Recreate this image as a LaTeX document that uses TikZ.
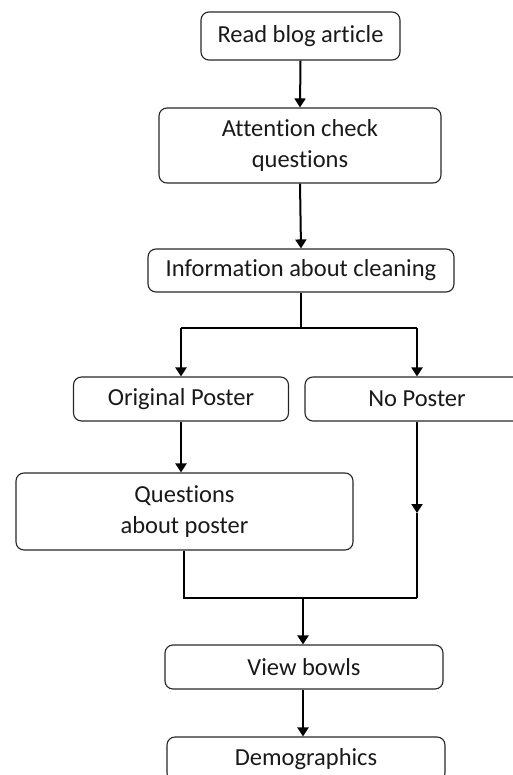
\documentclass[tikz,border=0pt]{standalone}
\usepackage{fontspec}
\setmainfont{Carlito}[Ligatures={NoCommon}]
\usetikzlibrary{arrows.meta,calc}
\begin{document}
\begin{tikzpicture}[x=1pt,y=-1pt,
  box/.style={draw=black!85,line width=1.1pt,rounded corners=8pt,align=center,
    inner sep=0pt,font=\fontsize{24.5}{31}\selectfont,text=black!90},
  conn/.style={line width=2pt,black},
  arr/.style={conn,-{Triangle[width=11pt,length=9pt]}}]
\useasboundingbox (0,0) rectangle (513,775);
\begin{scope}
\clip (0,0) rectangle (513,775);
\node[box,minimum width=199pt,minimum height=48pt] (read) at (300.5,36) {Read blog article};
\node[box,minimum width=282pt,minimum height=75pt] (att) at (300,145.5) {Attention check\\questions};
\node[box,minimum width=306pt,minimum height=43pt] (info) at (301,270.5) {Information about cleaning};
\node[box,minimum width=215pt,minimum height=44pt] (orig) at (181,399) {Original Poster};
\node[box,minimum width=224pt,minimum height=44pt] (nop) at (417,399) {No Poster};
\node[box,minimum width=337pt,minimum height=77pt] (quest) at (184.5,511.5) {Questions\\about poster};
\node[box,minimum width=278pt,minimum height=44pt] (view) at (304,667) {View bowls};
\node[box,minimum width=278pt,minimum height=44pt] (demo) at (306,759) {Demographics};
\end{scope}
\coordinate (split) at (301,328);
\coordinate (splitL) at (181,328);
\coordinate (splitR) at (417,328);
\coordinate (mid) at (417,513);
\coordinate (joinR) at (417,598);
\coordinate (joinL) at (184,598);
\coordinate (join) at (303,598);
\draw[arr] (read.south) -- (att.north);
\draw[arr] (att.south) -- (info.north);
\draw[conn] (info.south) -- (split);
\draw[conn] (splitL) -- (splitR);
\draw[arr] (splitL) -- (orig.north);
\draw[arr] (splitR) -- (nop.north);
\draw[arr] (orig.south) -- (orig.south |- quest.north);
\draw[arr] (nop.south) -- (mid);
\draw[conn] (mid) -- (joinR);
\draw[conn] (quest.south -| joinL) -- (joinL) -- (joinR);
\draw[arr] (join) -- (view.north -| join);
\draw[arr] (view.south -| join) -- (demo.north -| join);
\end{tikzpicture}
\end{document}
